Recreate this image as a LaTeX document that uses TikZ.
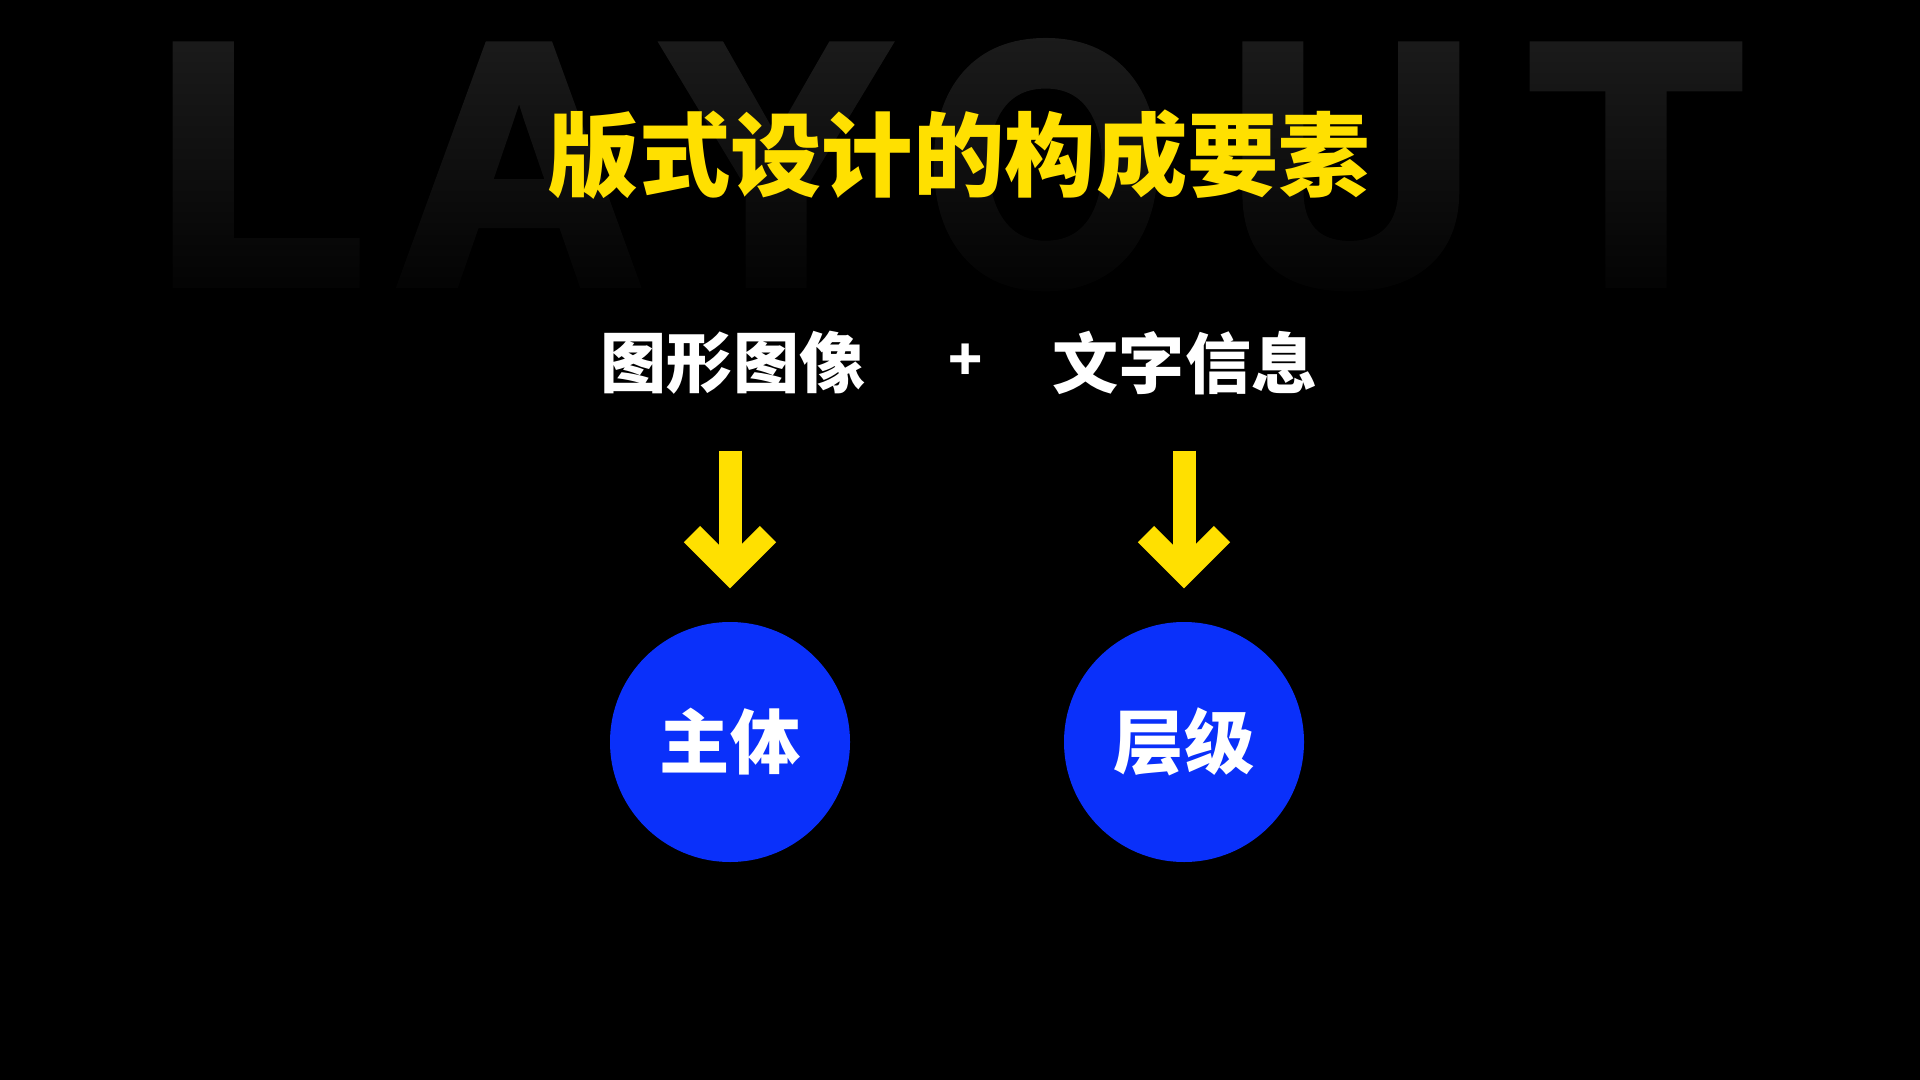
\documentclass[tikz,border=0pt]{standalone}
\usepackage{fontspec}
\newfontfamily\cjk{Noto Sans CJK SC}
\newfontfamily\bgfont{Liberation Sans Bold}[FakeBold=3.5]
\usetikzlibrary{arrows.meta,fadings}
\definecolor{layoutyellow}{HTML}{FFE000}
\definecolor{layoutblue}{HTML}{0A30FA}
\definecolor{bgletter}{HTML}{1C1C1C}
\begin{document}
\begin{tikzpicture}[
    bigletter/.style={anchor=base, inner sep=0, text=bgletter, font=\bgfont\fontsize{97pt}{97pt}\selectfont},
    rowtext/.style={text=white, inner sep=0, minimum height=0.66cm, font=\cjk\bfseries\fontsize{18.8pt}{20pt}\selectfont},
    mycircle/.style={circle, fill=layoutblue, minimum size=2.4cm, inner sep=0, text=white, font=\cjk\bfseries\fontsize{20pt}{22pt}\selectfont},
    bigarrow/.style={-{Straight Barb[sharp, length=0.38cm, width=0.76cm]}, line width=0.23cm, layoutyellow, shorten <=0.54cm, shorten >=0.33cm},
]
\fill[black] (0,0) rectangle (19.2,-10.8);
\useasboundingbox (0,0) rectangle (19.2,-10.8);

% background word
\node[bigletter] (bgL) at (2.60,-2.82) {L};
\node[bigletter] (bgA) at (5.19,-2.82) {A};
\node[bigletter] (bgY) at (7.76,-2.82) {Y};
\node[bigletter, xscale=0.9] (bgO) at (10.46,-2.82) {O};
\node[bigletter] (bgU) at (13.51,-2.82) {U};
\node[bigletter] (bgT) at (16.36,-2.82) {T};
\fill[black, path fading=north] (1.4,-0.3) rectangle (17.8,-3.3);

\node[text=layoutyellow, font=\cjk\bfseries\fontsize{26pt}{28pt}\selectfont] (title) at (9.59,-1.55) {版式设计的构成要素};

\node[rowtext] (img) at (7.33,-3.63) {图形图像};
\node[rowtext, font=\cjk\bfseries\fontsize{16pt}{18pt}\selectfont] (plus) at (9.66,-3.62) {+};
\node[rowtext] (txt) at (11.85,-3.63) {文字信息};

\node[mycircle] (zt) at (7.30,-7.42) {主体};
\node[mycircle] (cj) at (11.84,-7.42) {层级};

\draw[bigarrow] (img.south -| zt.north) -- (zt.north);
\draw[bigarrow] (txt.south -| cj.north) -- (cj.north);
\end{tikzpicture}
\end{document}
